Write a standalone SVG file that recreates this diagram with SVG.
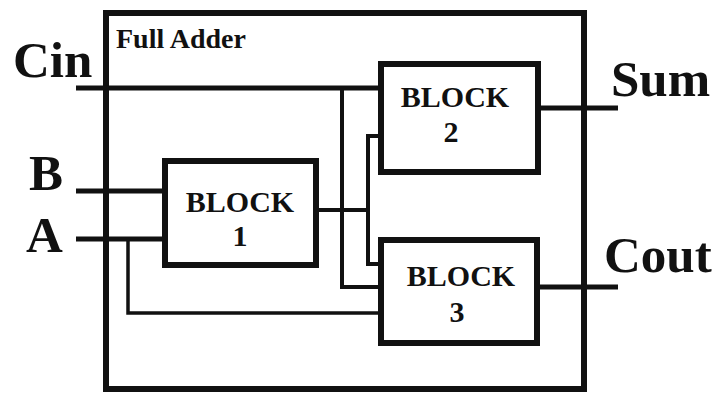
<svg xmlns="http://www.w3.org/2000/svg" width="720" height="394" viewBox="0 0 720 394">
<style>
text{font-family:"Liberation Serif","Times New Roman",serif;font-weight:bold;fill:#111}
.big{font-size:51px}
.blk{font-size:30px;text-anchor:middle}
.box{fill:#fff;stroke:#111;stroke-width:6}
.w{fill:none;stroke:#111;stroke-width:5}
.wi{fill:none;stroke:#111;stroke-width:4}
.wt{fill:none;stroke:#111;stroke-width:3.5}
</style>
<rect width="720" height="394" fill="#fff"/>
<g id="full-adder">
<rect class="box" x="106" y="13" width="478" height="376" fill="none"/>
<text x="116" y="48" font-size="28">Full Adder</text>
</g>
<g id="connectors">
<path class="w" d="M76 88H381"/>
<path class="w" d="M76 191H165"/>
<path class="w" d="M76 239H165"/>
<path class="w" d="M538 108H618"/>
<path class="w" d="M537 287H618"/>
<path class="wi" d="M342 88V287H381"/>
<path class="wi" d="M316 210H368"/>
<path class="wi" d="M381 136H368V264H381"/>
<path class="wt" d="M128 239V313H381"/>
</g>
<g id="block1">
<rect class="box" x="165" y="161" width="151" height="104"/>
<text class="blk" x="240" y="212">BLOCK</text>
<text class="blk" x="240" y="246">1</text>
</g>
<g id="block2">
<rect class="box" x="381" y="64" width="157" height="108"/>
<text class="blk" x="455" y="107">BLOCK</text>
<text class="blk" x="451" y="142">2</text>
</g>
<g id="block3">
<rect class="box" x="381" y="240" width="156" height="103"/>
<text class="blk" x="461" y="286">BLOCK</text>
<text class="blk" x="457" y="322">3</text>
</g>
<g id="labels">
<text class="big" x="13" y="77">Cin</text>
<text class="big" x="29" y="190">B</text>
<text class="big" x="26" y="252">A</text>
<text class="big" x="611" y="96">Sum</text>
<text class="big" x="604" y="272">Cout</text>
</g>
</svg>
